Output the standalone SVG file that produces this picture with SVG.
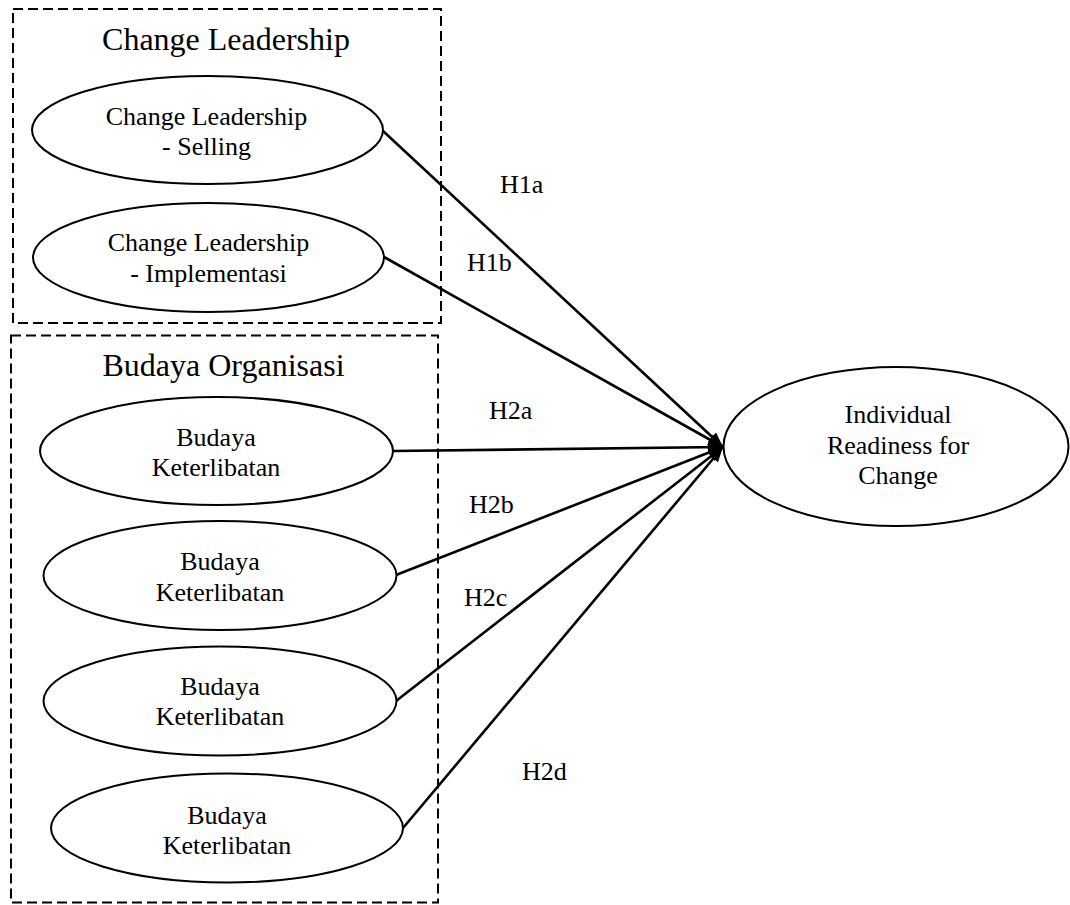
<svg xmlns="http://www.w3.org/2000/svg" width="1070" height="905" viewBox="0 0 1070 905">
<style>
  .bg { fill: #ffffff; }
  .group { fill: none; stroke: #000; stroke-width: 2; stroke-dasharray: 10 5; }
  .node { fill: #ffffff; stroke: #000; stroke-width: 2; }
  .edge { fill: none; stroke: #000; stroke-width: 2.6; marker-end: url(#arrow); }
  text { font-family: "Liberation Serif", "Times New Roman", serif; fill: #000; text-anchor: middle; }
  .title { font-size: 32px; }
  .lbl { font-size: 26px; }
  .elbl { font-size: 26px; text-anchor: start; }
</style>
<defs>
  <marker id="arrow" markerUnits="userSpaceOnUse" markerWidth="16" markerHeight="14" refX="15" refY="7" orient="auto">
    <path d="M0,1 L15,7 L0,13 z" fill="#000"/>
  </marker>
</defs>
<rect class="bg" x="0" y="0" width="1070" height="905"/>

<g id="group-change-leadership">
  <rect class="group" x="13" y="9" width="428" height="314"/>
  <text class="title" x="226" y="50">Change Leadership</text>
</g>
<g id="group-budaya-organisasi">
  <rect class="group" x="11" y="335.5" width="427" height="567"/>
  <text class="title" x="223.5" y="376">Budaya Organisasi</text>
</g>

<g id="connectors">
  <line class="edge" x1="383" y1="131" x2="723" y2="447"/>
  <line class="edge" x1="384" y1="257" x2="723" y2="447"/>
  <line class="edge" x1="393" y1="451" x2="723" y2="447"/>
  <line class="edge" x1="396" y1="575" x2="723" y2="447"/>
  <line class="edge" x1="396" y1="701" x2="723" y2="447"/>
  <line class="edge" x1="403" y1="828" x2="723" y2="447"/>
  <text class="elbl" x="500" y="193">H1a</text>
  <text class="elbl" x="467" y="271">H1b</text>
  <text class="elbl" x="489" y="419">H2a</text>
  <text class="elbl" x="469" y="513">H2b</text>
  <text class="elbl" x="464" y="606">H2c</text>
  <text class="elbl" x="522" y="780">H2d</text>
</g>

<g id="node-cl-selling">
  <ellipse class="node" cx="207.5" cy="130" rx="175.5" ry="54"/>
  <text class="lbl" x="206.5" y="125">Change Leadership</text>
  <text class="lbl" x="206.5" y="155">- Selling</text>
</g>
<g id="node-cl-implementasi">
  <ellipse class="node" cx="208.5" cy="257.5" rx="175.5" ry="54.5"/>
  <text class="lbl" x="208.5" y="251">Change Leadership</text>
  <text class="lbl" x="208.5" y="282">- Implementasi</text>
</g>
<g id="node-budaya-1">
  <ellipse class="node" cx="216.5" cy="451" rx="176.5" ry="54"/>
  <text class="lbl" x="216" y="445.5">Budaya</text>
  <text class="lbl" x="216" y="476">Keterlibatan</text>
</g>
<g id="node-budaya-2">
  <ellipse class="node" cx="220" cy="575.5" rx="176.5" ry="54.5"/>
  <text class="lbl" x="220" y="570">Budaya</text>
  <text class="lbl" x="220" y="601">Keterlibatan</text>
</g>
<g id="node-budaya-3">
  <ellipse class="node" cx="220" cy="701" rx="176.5" ry="54.5"/>
  <text class="lbl" x="220" y="694.5">Budaya</text>
  <text class="lbl" x="220" y="725">Keterlibatan</text>
</g>
<g id="node-budaya-4">
  <ellipse class="node" cx="227" cy="828" rx="176" ry="54.5"/>
  <text class="lbl" x="227" y="824">Budaya</text>
  <text class="lbl" x="227" y="854">Keterlibatan</text>
</g>
<g id="node-irc">
  <ellipse class="node" cx="896" cy="446.5" rx="172.5" ry="79.5"/>
  <text class="lbl" x="898" y="423">Individual</text>
  <text class="lbl" x="898" y="454">Readiness for</text>
  <text class="lbl" x="898" y="484">Change</text>
</g>
</svg>
